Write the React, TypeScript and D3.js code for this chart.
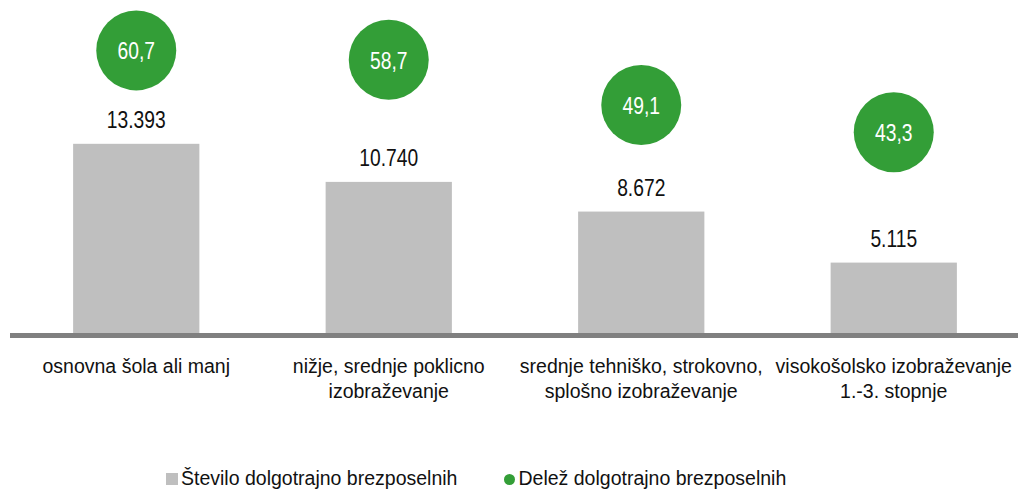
import React from 'react';
import * as d3 from 'd3';

// data
const categories = [
  ['osnovna šola ali manj'],
  ['nižje, srednje poklicno', 'izobraževanje'],
  ['srednje tehniško, strokovno,', 'splošno izobraževanje'],
  ['visokošolsko izobraževanje', '1.-3. stopnje'],
];
const counts = [13393, 10740, 8672, 5115];
const shares = [60.7, 58.7, 49.1, 43.3];
const legendLabels = ['Število dolgotrajno brezposelnih', 'Delež dolgotrajno brezposelnih'];

const W = 1018;
const H = 491;
const FONT = '"Liberation Sans", Arial, sans-serif';
const GRAY = '#bfbfbf';
const GREEN = '#339e37';
// value labels use a condensed look (narrow font), faked with a horizontal squeeze
const NARROW = 'scale(0.82,1)';

const locale = d3.formatLocale({ decimal: ',', thousands: '.', grouping: [3], currency: ['', ''] });
const fmtCount = locale.format(',d');
const fmtShare = locale.format('.1f');

export default function App() {
  const idx = categories.map((_, i) => String(i));
  const x = d3.scaleBand().domain(idx).range([10, 1020]).paddingInner(0.5).paddingOuter(0.25);
  const y = d3.scaleLinear().domain([0, 20000]).range([336, 49]);
  const y2 = d3.scaleLinear().domain([0, 61]).range([336, 49]);
  const bw = x.bandwidth();
  const cx = (i: number) => x(String(i))! + bw / 2;

  return (
    <svg width={W} height={H} style={{ position: 'absolute', left: 0, top: 0, background: '#fff' }} fontFamily={FONT}>
      {counts.map((v, i) => (
        <g key={'b' + i}>
          <rect x={x(String(i))} y={y(v)} width={bw} height={y(0) - y(v)} fill={GRAY} />
          <g transform={`translate(${cx(i)},${y(v) - 16}) ${NARROW}`}>
            <text textAnchor="middle" fontSize={23.5} fill="#111">
              {fmtCount(v)}
            </text>
          </g>
        </g>
      ))}
      <line x1={10} x2={W} y1={335.5} y2={335.5} stroke="#808080" strokeWidth={5} />
      {shares.map((v, i) => (
        <g key={'c' + i}>
          <circle cx={cx(i)} cy={y2(v)} r={40} fill={GREEN} />
          <g transform={`translate(${cx(i)},${y2(v) + 9}) ${NARROW}`}>
            <text textAnchor="middle" fontSize={23.5} fill="#fff">
              {fmtShare(v)}
            </text>
          </g>
        </g>
      ))}
      {categories.map((lines, i) => (
        <text key={'l' + i} textAnchor="middle" fontSize={19.5} fill="#111">
          {lines.map((t, j) => (
            <tspan key={j} x={cx(i)} y={373 + j * 25}>
              {t}
            </tspan>
          ))}
        </text>
      ))}
      <g>
        <rect x={166} y={473} width={12} height={12} fill={GRAY} />
        <text x={181} y={485} fontSize={19.5} fill="#111">{legendLabels[0]}</text>
        <circle cx={509.5} cy={479.5} r={5.5} fill={GREEN} />
        <text x={518.5} y={485} fontSize={19.5} fill="#111">{legendLabels[1]}</text>
      </g>
    </svg>
  );
}
